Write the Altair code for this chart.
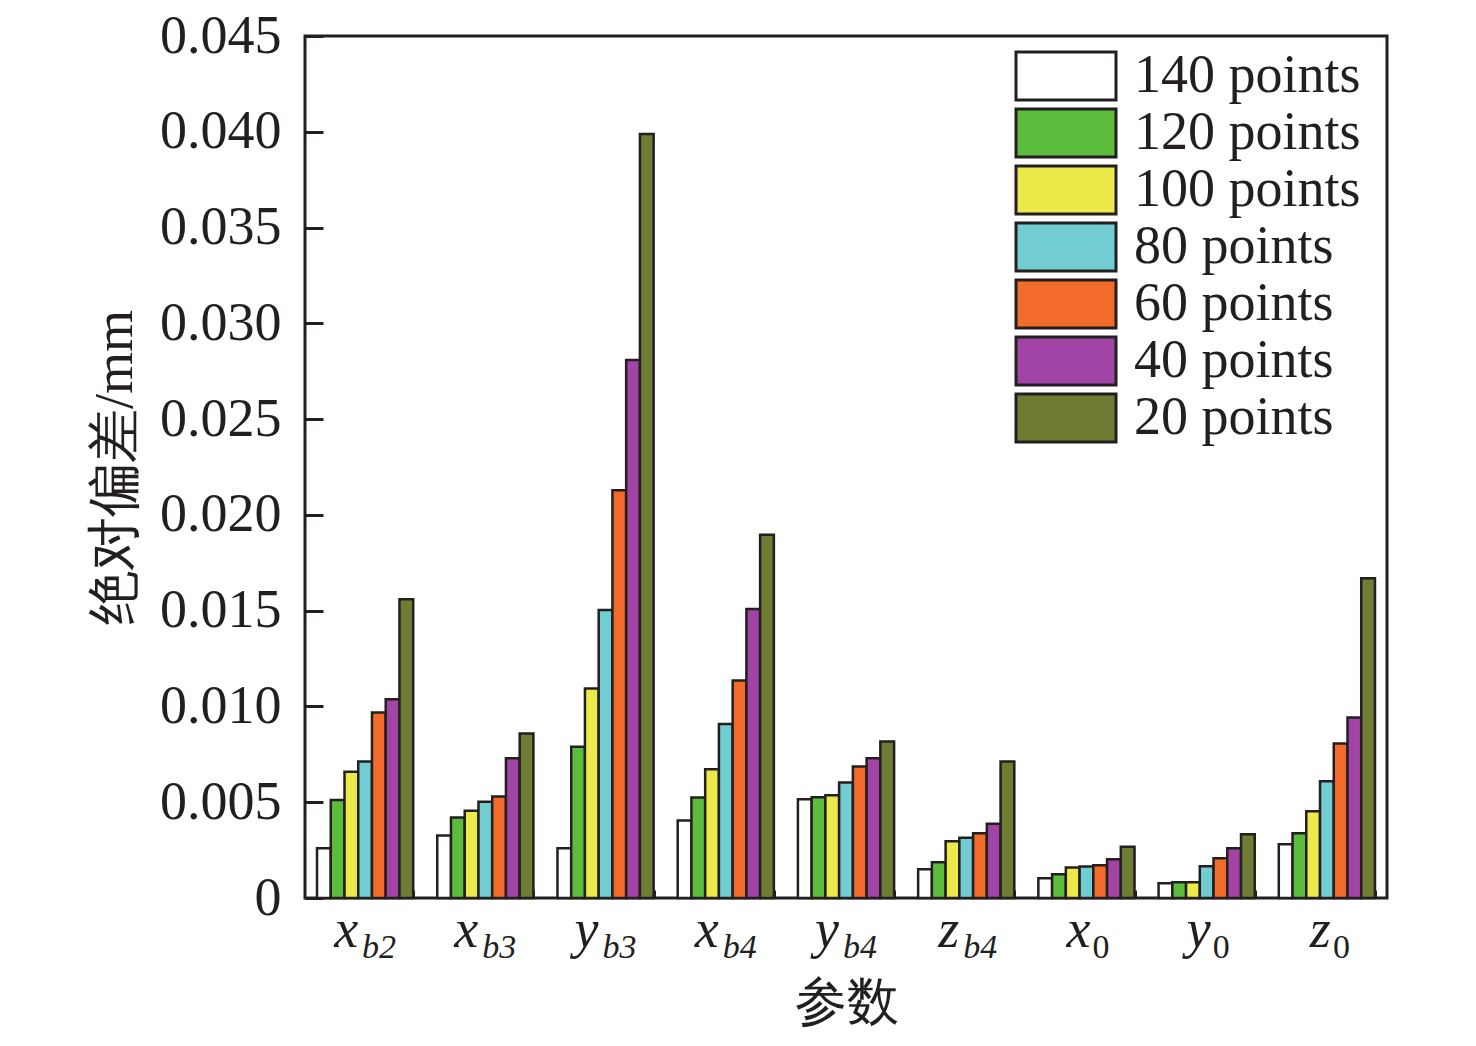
import altair as alt
import pandas as pd

params = ["xb2", "xb3", "yb3", "xb4", "yb4", "zb4", "x0", "y0", "z0"]
main_letters = ["x", "x", "y", "x", "y", "z", "x", "y", "z"]
sub_letters = ["b2", "b3", "b3", "b4", "b4", "b4", "0", "0", "0"]
series = ["140 points", "120 points", "100 points", "80 points", "60 points", "40 points", "20 points"]
colors = ["#ffffff", "#5cbd3c", "#ebea4a", "#72cdd2", "#f26b2a", "#a144a5", "#6f7c33"]

v140 = [0.00260, 0.00326, 0.00260, 0.00404, 0.00516, 0.00150, 0.00103, 0.00077, 0.00280]
v120 = [0.00512, 0.00420, 0.00790, 0.00524, 0.00526, 0.00186, 0.00124, 0.00082, 0.00338]
v100 = [0.00659, 0.00455, 0.01094, 0.00672, 0.00537, 0.00296, 0.00159, 0.00082, 0.00453]
v80 = [0.00713, 0.00502, 0.01504, 0.00908, 0.00603, 0.00315, 0.00164, 0.00166, 0.00610]
v60 = [0.00969, 0.00530, 0.02129, 0.01136, 0.00686, 0.00338, 0.00171, 0.00207, 0.00807]
v40 = [0.01037, 0.00730, 0.02808, 0.01509, 0.00730, 0.00387, 0.00202, 0.00260, 0.00942]
v20 = [0.01559, 0.00859, 0.03988, 0.01896, 0.00817, 0.00712, 0.00268, 0.00333, 0.01669]

y_ticks = [0, 0.005, 0.010, 0.015, 0.020, 0.025, 0.030, 0.035, 0.040, 0.045]

all_values = [v140, v120, v100, v80, v60, v40, v20]
rows = []
for s, vals in zip(series, all_values):
    for p, v in zip(params, vals):
        rows.append({"param": p, "series": s, "value": v})
df = pd.DataFrame(rows)

labels_df = pd.DataFrame({"param": params, "main": main_letters, "sub": sub_letters})

INK = "#231f20"
SERIF = "Liberation Serif"

x_enc = alt.X(
    "param:N",
    sort=params,
    scale=alt.Scale(paddingInner=0.2, paddingOuter=0.1),
    axis=alt.Axis(
        labels=False,
        title="参数",
        offset=-8,
        tickSize=8,
        tickWidth=3,
        tickColor=INK,
        domain=False,
        grid=False,
        tickBand="extent",
        titleFont=SERIF,
        titleFontSize=52,
        titleFontWeight="normal",
        titleColor=INK,
        titlePadding=78,
    ),
)

bars = alt.Chart(df).mark_bar(stroke=INK, strokeWidth=2.5).encode(
    x=x_enc,
    xOffset=alt.XOffset("series:N", sort=series, scale=alt.Scale(paddingInner=0, paddingOuter=0)),
    y=alt.Y(
        "value:Q",
        scale=alt.Scale(domain=[0, 0.045], nice=False),
        axis=alt.Axis(
            values=y_ticks,
            labelExpr="datum.value == 0 ? '0' : format(datum.value, '.3f')",
            offset=-18,
            tickSize=18,
            tickWidth=3,
            tickColor=INK,
            domain=False,
            grid=False,
            labelFont=SERIF,
            labelFontSize=54,
            labelColor=INK,
            labelPadding=24,
            title="绝对偏差/mm",
            titleFont=SERIF,
            titleFontSize=54,
            titleFontWeight="normal",
            titleColor=INK,
            titlePadding=17,
        ),
    ),
    fill=alt.Fill(
        "series:N",
        sort=series,
        scale=alt.Scale(domain=series, range=colors),
        legend=alt.Legend(
            title=None,
            orient="none",
            legendX=734,
            legendY=13,
            symbolType="M-2,-0.96H2V0.96H-2Z",
            symbolSize=2500,
            symbolStrokeColor=INK,
            symbolStrokeWidth=3,
            symbolOpacity=1,
            labelFont=SERIF,
            labelFontSize=54,
            labelColor=INK,
            labelOffset=41,
            labelLimit=500,
            rowPadding=-14,
            padding=0,
        ),
    ),
)

main_long = alt.Chart(labels_df).transform_filter("length(datum.sub) == 2").mark_text(
    font=SERIF, fontSize=54, fontStyle="italic", align="right", baseline="alphabetic", dx=-7, color=INK
).encode(x=x_enc, y=alt.value(911), text="main:N")

sub_long = alt.Chart(labels_df).transform_filter("length(datum.sub) == 2").mark_text(
    font=SERIF, fontSize=34, fontStyle="italic", align="left", baseline="alphabetic", dx=-3, color=INK
).encode(x=x_enc, y=alt.value(922), text="sub:N")

main_short = alt.Chart(labels_df).transform_filter("length(datum.sub) == 1").mark_text(
    font=SERIF, fontSize=54, fontStyle="italic", align="right", baseline="alphabetic", dx=4, color=INK
).encode(x=x_enc, y=alt.value(911), text="main:N")

sub_short = alt.Chart(labels_df).transform_filter("length(datum.sub) == 1").mark_text(
    font=SERIF, fontSize=34, fontStyle="normal", align="left", baseline="alphabetic", dx=6, color=INK
).encode(x=x_enc, y=alt.value(922), text="sub:N")

chart = alt.layer(bars, main_long, sub_long, main_short, sub_short).properties(
    width=1082,
    height=862,
    autosize=alt.AutoSizeParams(type="none"),
    padding={"left": 297, "top": 28, "right": 81, "bottom": 140},
    background="white",
).configure_view(stroke=INK, strokeWidth=3)

chart.save("out.html", embed_options={"renderer": "svg", "actions": False})
